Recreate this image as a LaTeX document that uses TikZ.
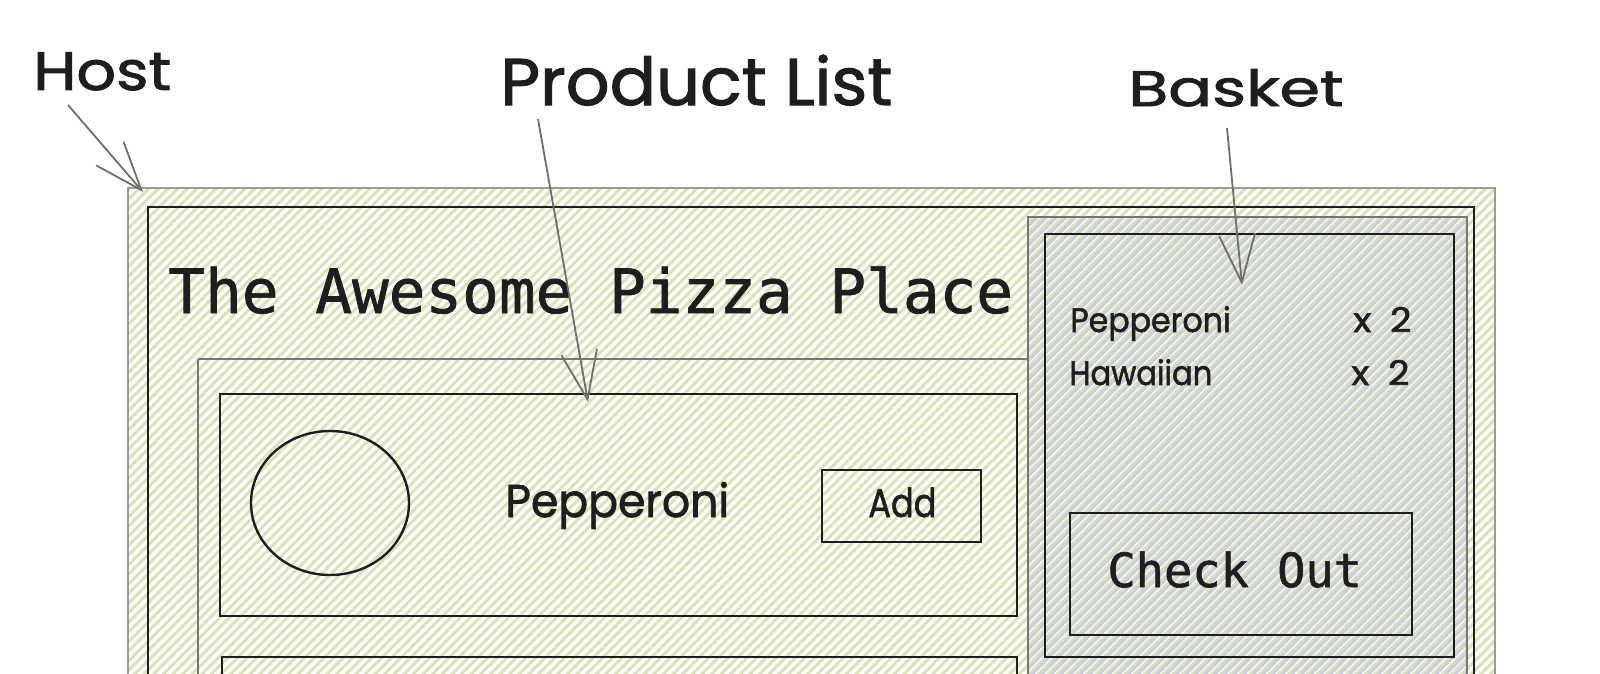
\documentclass[tikz,border=0pt]{standalone}
\usepackage{fontspec}
\newfontfamily\handfont{Poppins}[FakeBold=1.6]
\newfontfamily\codefont{DejaVu Sans Mono}[FakeBold=1.2]
\usetikzlibrary{arrows.meta,patterns.meta}
\definecolor{hatchgreen}{HTML}{DDE1B6}
\definecolor{hatchblue}{HTML}{C9CEE0}
\definecolor{ink}{HTML}{1E1E1E}
\definecolor{framegray}{HTML}{9A9A9A}
\definecolor{midgray}{HTML}{767676}
\definecolor{arrowgray}{HTML}{6E6E6E}
\tikzset{
  hand/.style={font=\handfont\fontsize{#1}{#1}\selectfont, text=ink, inner sep=0pt, anchor=base west},
  code/.style={font=\codefont\fontsize{#1}{#1}\selectfont, text=ink, inner sep=0pt, anchor=base west},
  inkbox/.style={draw=ink, line width=1.2pt},
  graybox/.style={draw=midgray, line width=1pt},
  outerbox/.style={draw=framegray, line width=1.4pt},
  greenfill/.style={pattern={Lines[angle=45,distance=3.4pt,line width=1.5pt]}, pattern color=hatchgreen},
  bluefill/.style={pattern={Lines[angle=45,distance=3.4pt,line width=1.5pt,xshift=1.7pt]}, pattern color=hatchblue},
  pointer/.style={draw=arrowgray, line width=0.9pt, -{Straight Barb[length=24pt,width=18pt,line width=0.9pt]}},
}
\newcommand{\hx}[2]{\scalebox{#1}[1]{#2}}
\begin{document}
\begin{tikzpicture}[x=0.5pt,y=-0.5pt]
\useasboundingbox (0,0) rectangle (1600,674);
\clip (0,0) rectangle (1600,674);
\fill[white] (0,0) rectangle (1600,674);

% Host frame
\path[greenfill] (128,188) rectangle (1495,700);
\draw[outerbox] (128,188) rectangle (1495,700);
\draw[inkbox] (148,207) rectangle (1474,700);

% Basket
\path[bluefill] (1028,217) rectangle (1467,700);
\draw[graybox] (1028,217) rectangle (1467,700);
\draw[inkbox] (1045,234) rectangle (1454,657);
\draw[inkbox] (1070,513) rectangle (1412,635);

% Product list
\draw[graybox] (198,359) -- (1028,359);
\draw[graybox] (198,359) -- (198,700);
\draw[inkbox] (220,394) rectangle (1017,616);
\draw[inkbox] (222,657) rectangle (1017,700);
\draw[inkbox] (330,503) ellipse [x radius=79, y radius=72];
\draw[inkbox] (822,470) rectangle (981,542);

% Texts
\node[code=30.5pt] (title) at (168,313) {The Awesome Pizza Place};
\node[code=23.5pt] (checkout) at (1107,587) {Check Out};
\node[hand=23pt] (pep) at (505,517) {\hx{0.96}{Pepperoni}};
\node[hand=20pt] (add) at (868,517) {\hx{0.84}{Add}};
\node[hand=17pt] (bpep) at (1070,332) {\hx{0.93}{Pepperoni}};
\node[hand=17pt] (bpepn) at (1353,332) {\hx{1.1}{x\hspace{0.5em}2}};
\node[hand=17pt] (bhaw) at (1069,385) {\hx{0.9}{Hawaiian}};
\node[hand=17pt] (bhawn) at (1351,385) {\hx{1.1}{x\hspace{0.5em}2}};

% Labels
\node[hand=27pt] (host) at (33,90) {\hx{1.15}{Host}};
\node[hand=33pt] (plist) at (500,105) {\hx{1.04}{Product List}};
\node[hand=25pt] (basket) at (1128,106) {\hx{1.3}{Basket}};

% Pointers
\coordinate (hostA) at (68,105);
\coordinate (hostT) at (143,192);
\coordinate (plistA) at (538,119);
\coordinate (plistT) at (588,402);
\coordinate (basketA) at (1227,128);
\coordinate (basketT) at (1242,285);
\draw[pointer] (hostA) -- (hostT);
\draw[pointer] (plistA) -- (plistT);
\draw[pointer] (basketA) -- (basketT);
\end{tikzpicture}
\end{document}
